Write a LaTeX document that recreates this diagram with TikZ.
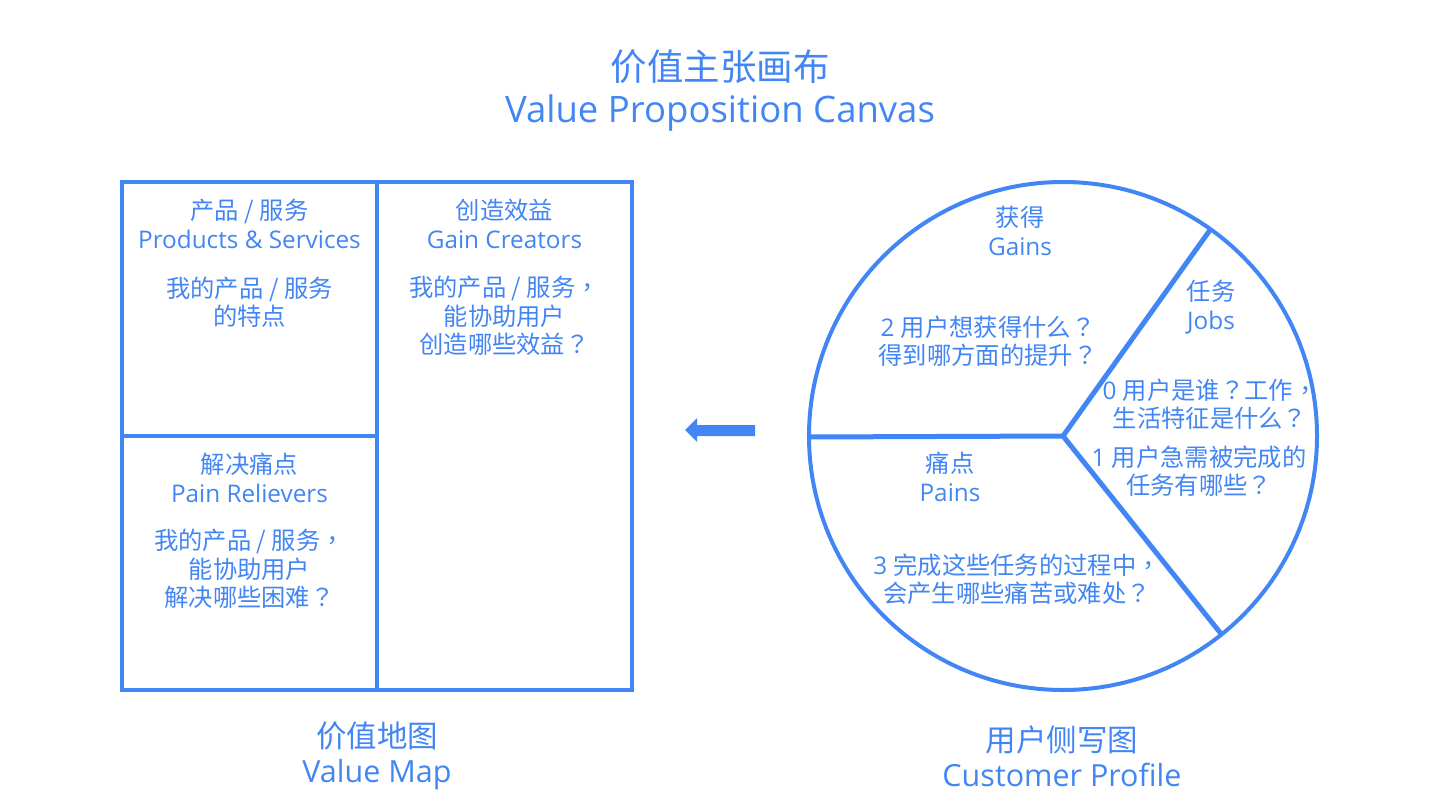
\documentclass[tikz,border=0pt]{standalone}
\usepackage{fontspec}
\setmainfont{Open Sans}
\newfontfamily\zh{Noto Sans CJK SC}
\newfontfamily\zhp{Noto Sans CJK TC}
\newcommand\qm{{\zhp ？}}
\newcommand\cm{{\zhp ，}}
\definecolor{vpblue}{RGB}{66,133,244}
\tikzset{
  frame/.style={draw=vpblue, line width=4pt},
  txt/.style={text=vpblue, align=center, inner sep=0pt, font=\fontsize{24.3}{28.5}\selectfont},
  big/.style={text=vpblue, align=center, inner sep=0pt, font=\fontsize{30.5}{35}\selectfont},
  title/.style={text=vpblue, align=center, inner sep=0pt, font=\fontsize{36.5}{42}\selectfont},
}
\begin{document}
\begin{tikzpicture}[x=1pt,y=-1pt]
\useasboundingbox (0,0) rectangle (1440,810);
% value map
\draw[frame] (122,182) rectangle (632,690);
\draw[frame] (377,182) -- (377,690);
\draw[frame] (122,436) -- (377,436);
% customer profile
\coordinate (c) at (1063,436);
\draw[frame] (c) circle (254);
\coordinate (pl) at (809,437);
\coordinate (pu) at (1210,230);
\coordinate (pd) at (1222,635);
\draw[frame, line width=5pt] (pl) -- (c);
\draw[frame, line width=5pt] (c) -- (pu);
\draw[frame, line width=5pt] (c) -- (pd);
% arrow
\fill[vpblue] (755,425) -- (697,425) -- (697,418) -- (685,430) -- (697,442) -- (697,436) -- (755,436) -- cycle;
% title
\node[title] (t) at (720,91) {{\zh 价值主张画布}\\Value Proposition Canvas};
% boxes text
\node[txt] (ps1) at (249.5,224) {{\zh 产品 / 服务}\\Products \& Services};
\node[txt] (ps2) at (249.5,302) {\zh 我的产品 / 服务\\\zh 的特点};
\node[txt] (gc1) at (504.5,224) {{\zh 创造效益}\\Gain Creators};
\node[txt] (gc2) at (504.5,316) {{\zh 我的产品 / 服务}\cm\\\zh 能协助用户\\{\zh 创造哪些效益}\qm};
\node[txt] (pr1) at (249.5,478) {{\zh 解决痛点}\\Pain Relievers};
\node[txt] (pr2) at (249.5,569) {{\zh 我的产品 / 服务}\cm\\\zh 能协助用户\\{\zh 解决哪些困难}\qm};
% circle text
\node[txt] (g1) at (1020,231) {{\zh 获得}\\Gains};
\node[txt] (g2) at (988,341) {2 {\zh 用户想获得什么}\qm\\{\zh 得到哪方面的提升}\qm};
\node[txt] (j1) at (1211,307) {{\zh 任务}\\Jobs};
\node[txt] (j2) at (1210,404) {0 {\zh 用户是谁}\qm{\zh 工作}\cm\\{\zh 生活特征是什么}\qm};
\node[txt] (j3) at (1199,471) {1 {\zh 用户急需被完成的}\\{\zh 任务有哪些}\qm};
\node[txt] (p1) at (950,477) {{\zh 痛点}\\Pains};
\node[txt] (p2) at (1017,579) {3 {\zh 完成这些任务的过程中}\cm\\{\zh 会产生哪些痛苦或难处}\qm};
% bottom labels
\node[big] (vm) at (377,756) {{\zh 价值地图}\\Value Map};
\node[big] (cp) at (1062,756) {{\zh 用户侧写图}\\Customer Profile};
\end{tikzpicture}
\end{document}
